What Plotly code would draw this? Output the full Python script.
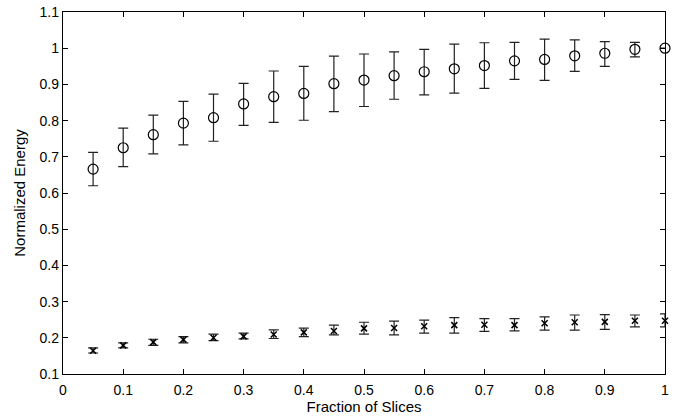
import plotly.graph_objects as go

fraction = [0.05, 0.10, 0.15, 0.20, 0.25, 0.30, 0.35, 0.40, 0.45, 0.50,
            0.55, 0.60, 0.65, 0.70, 0.75, 0.80, 0.85, 0.90, 0.95, 1.00]

upper_mean = [0.666, 0.725, 0.761, 0.793, 0.808, 0.846, 0.866, 0.875, 0.902, 0.912,
              0.924, 0.935, 0.943, 0.952, 0.965, 0.969, 0.979, 0.986, 0.997, 1.000]
upper_hi = [0.712, 0.779, 0.815, 0.853, 0.873, 0.903, 0.937, 0.950, 0.978, 0.984,
            0.990, 0.997, 1.011, 1.015, 1.016, 1.025, 1.023, 1.018, 1.016, 1.000]
upper_lo = [0.620, 0.673, 0.708, 0.733, 0.743, 0.787, 0.795, 0.801, 0.825, 0.839,
            0.859, 0.871, 0.876, 0.889, 0.914, 0.911, 0.936, 0.950, 0.976, 1.000]

lower_mean = [0.164, 0.179, 0.188, 0.195, 0.200, 0.204, 0.209, 0.215, 0.219, 0.226,
              0.227, 0.232, 0.235, 0.236, 0.235, 0.240, 0.243, 0.244, 0.247, 0.247]
lower_hi = [0.172, 0.186, 0.196, 0.203, 0.210, 0.213, 0.222, 0.227, 0.235, 0.243,
            0.246, 0.249, 0.256, 0.253, 0.253, 0.258, 0.263, 0.264, 0.263, 0.266]
lower_lo = [0.158, 0.172, 0.179, 0.186, 0.192, 0.197, 0.198, 0.203, 0.208, 0.210,
            0.208, 0.213, 0.213, 0.218, 0.219, 0.221, 0.221, 0.223, 0.230, 0.230]

x_ticks = [0, 0.1, 0.2, 0.3, 0.4, 0.5, 0.6, 0.7, 0.8, 0.9, 1]
x_labels = ["0", "0.1", "0.2", "0.3", "0.4", "0.5", "0.6", "0.7", "0.8", "0.9", "1"]
y_ticks = [0.1, 0.2, 0.3, 0.4, 0.5, 0.6, 0.7, 0.8, 0.9, 1.0, 1.1]
y_labels = ["0.1", "0.2", "0.3", "0.4", "0.5", "0.6", "0.7", "0.8", "0.9", "1", "1.1"]

def err(mean, hi, lo):
    return dict(type="data", symmetric=False,
                array=[h - m for h, m in zip(hi, mean)],
                arrayminus=[m - l for m, l in zip(mean, lo)],
                color="#222", thickness=1.2, width=5)

fig = go.Figure()
fig.add_trace(go.Scatter(
    x=fraction, y=upper_mean, mode="markers",
    marker=dict(symbol="circle-open", size=10, color="black", line=dict(width=1.2)),
    error_y=err(upper_mean, upper_hi, upper_lo), cliponaxis=False, showlegend=False))
fig.add_trace(go.Scatter(
    x=fraction, y=lower_mean, mode="markers",
    marker=dict(symbol="x-thin-open", size=6, color="black", line=dict(width=1.5)),
    error_y=err(lower_mean, lower_hi, lower_lo), cliponaxis=False, showlegend=False))

axis_common = dict(showline=True, linecolor="black", linewidth=1.3, mirror="ticks",
                   ticks="inside", ticklen=5, tickcolor="black", showgrid=False,
                   zeroline=False, automargin=False, tickfont=dict(size=14, color="black"))

fig.update_layout(
    width=681, height=419,
    margin=dict(l=63, r=16, t=12, b=45),
    paper_bgcolor="white", plot_bgcolor="white",
    font=dict(family="Liberation Sans, Arial, Helvetica, sans-serif", color="black", size=14),
    xaxis=dict(range=[0, 1], tickvals=x_ticks, ticktext=x_labels, ticklabelstandoff=3,
               title=dict(text="Fraction of Slices", font=dict(size=15), standoff=2),
               **axis_common),
    yaxis=dict(range=[0.1, 1.1], tickvals=y_ticks, ticktext=y_labels,
               title=dict(text="Normalized Energy", font=dict(size=15), standoff=10),
               **axis_common),
)

fig.write_html("out.html", config={"displayModeBar": False},
               post_script="document.body.style.margin='0px';document.body.style.overflow='hidden';")
